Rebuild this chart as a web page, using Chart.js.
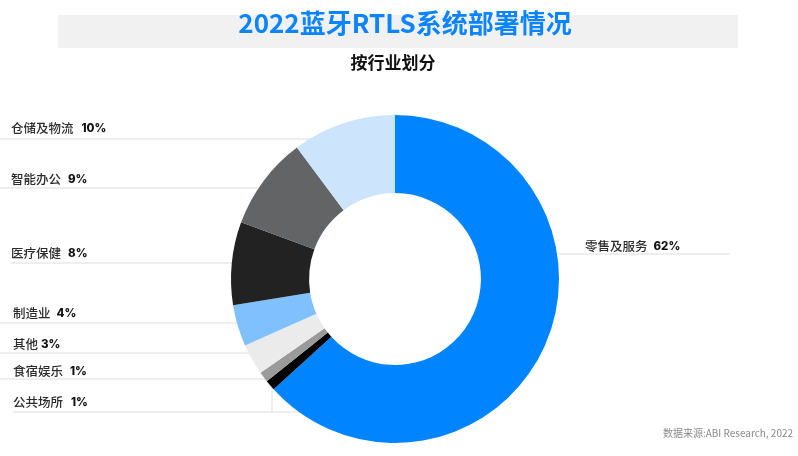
<!DOCTYPE html>
<html>
<head>
<meta charset="utf-8">
<script src="https://cdn.jsdelivr.net/npm/chart.js@4/dist/chart.umd.min.js"></script>
<style>
html,body{margin:0;padding:0;background:#fff;}
#wrap{position:relative;width:798px;height:456px;}
canvas{display:block;}
</style>
</head>
<body>
<div id="wrap"><canvas id="c" width="798" height="456"></canvas></div>
<script>
const categories = ["零售及服务","公共场所","食宿娱乐","其他","制造业","医疗保健","智能办公","仓储及物流"];
const shares = [62, 1, 1, 3, 4, 8, 9, 10];
const sliceColors = ["#0084ff","#000000","#9a9a9a","#ebebeb","#80c0ff","#222222","#636466","#cce5fc"];
const titleText = "2022蓝牙RTLS系统部署情况";
const subtitleText = "按行业划分";
const sourceText = "数据来源:ABI Research, 2022";

// label placement (style only)
const labelLayout = {
  0: {x:585, y:246, lineY:254, lineX0:null, lineX1:730, gap:6, side:"right"},
  1: {x:13, y:402, lineY:412, lineX0:13, gap:8},
  2: {x:13, y:371, lineY:379, lineX0:0, gap:7},
  3: {x:13, y:344, lineY:353, lineX0:0, gap:3},
  4: {x:13, y:313, lineY:323, lineX0:0, gap:6},
  5: {x:11, y:253, lineY:263, lineX0:11, gap:7},
  6: {x:11, y:179, lineY:188, lineX0:0, gap:7},
  7: {x:11, y:128, lineY:139, lineX0:0, gap:8}
};

const decor = {
  id: "decor",
  beforeDraw(chart) {
    const ctx = chart.ctx;
    ctx.save();
    ctx.fillStyle = "#ffffff";
    ctx.fillRect(0, 0, chart.width, chart.height);
    ctx.fillStyle = "#f1f1f1";
    ctx.fillRect(58, 15, 680, 33);
    ctx.fillStyle = "#0a84ff";
    ctx.font = "bold 26px 'Noto Sans CJK SC', 'Noto Sans', sans-serif";
    ctx.textAlign = "center";
    ctx.textBaseline = "middle";
    ctx.fillText(titleText, 405, 23, 336);
    ctx.fillStyle = "#111";
    ctx.font = "bold 17px 'Noto Sans CJK SC', sans-serif";
    ctx.fillText(subtitleText, 393, 63);
    ctx.fillStyle = "#8a8a8a";
    ctx.font = "10.5px 'Noto Sans CJK SC', 'Noto Sans', sans-serif";
    ctx.textAlign = "right";
    ctx.fillText(sourceText, 793, 433, 130);
    ctx.restore();
  },
  beforeDatasetsDraw(chart) {
    const ctx = chart.ctx;
    const arc = chart.getDatasetMeta(0).data[0];
    const cx = arc.x, cy = arc.y, R = arc.outerRadius;
    ctx.save();
    ctx.strokeStyle = "#e9e9e9";
    ctx.lineWidth = 1.5;
    Object.keys(labelLayout).forEach(k => {
      const L = labelLayout[k];
      const dy = L.lineY - cy;
      const half = Math.sqrt(Math.max(R*R - dy*dy, 0));
      ctx.beginPath();
      if (L.side === "right") {
        ctx.moveTo(cx + half - 4, L.lineY);
        ctx.lineTo(L.lineX1, L.lineY);
      } else {
        ctx.moveTo(L.lineX0, L.lineY);
        let x1 = cx - half + 6;
        if (+k === 1 || +k === 2) x1 = Math.max(x1, 272);
        ctx.lineTo(x1, L.lineY);
      }
      ctx.stroke();
    });
    ctx.beginPath();
    ctx.moveTo(272, labelLayout[2].lineY);
    ctx.lineTo(272, labelLayout[1].lineY);
    ctx.stroke();
    ctx.restore();
  },
  afterDraw(chart) {
    const ctx = chart.ctx;
    ctx.save();
    ctx.textBaseline = "middle";
    ctx.textAlign = "left";
    categories.forEach((name, i) => {
      const L = labelLayout[i];
      ctx.font = "500 12.5px 'Noto Sans CJK SC', sans-serif";
      ctx.fillStyle = "#2b2b2b";
      ctx.fillText(name, L.x, L.y);
      const w = ctx.measureText(name).width;
      ctx.font = "800 11.5px Inter, 'Noto Sans', sans-serif";
      ctx.fillStyle = "#111111";
      ctx.fillText(shares[i] + "%", L.x + w + L.gap, L.y + 0.5);
    });
    ctx.restore();
  }
};

new Chart(document.getElementById("c"), {
  type: "doughnut",
  data: {
    labels: categories,
    datasets: [{
      data: shares,
      backgroundColor: sliceColors,
      borderWidth: 0,
      hoverOffset: 0
    }]
  },
  options: {
    responsive: false,
    animation: false,
    cutout: "52.4%",
    layout: { padding: { top: 115, bottom: 13, left: 231, right: 239 } },
    plugins: {
      legend: { display: false },
      tooltip: { enabled: false },
      title: { display: false }
    },
    events: []
  },
  plugins: [decor]
});
</script>
</body>
</html>
